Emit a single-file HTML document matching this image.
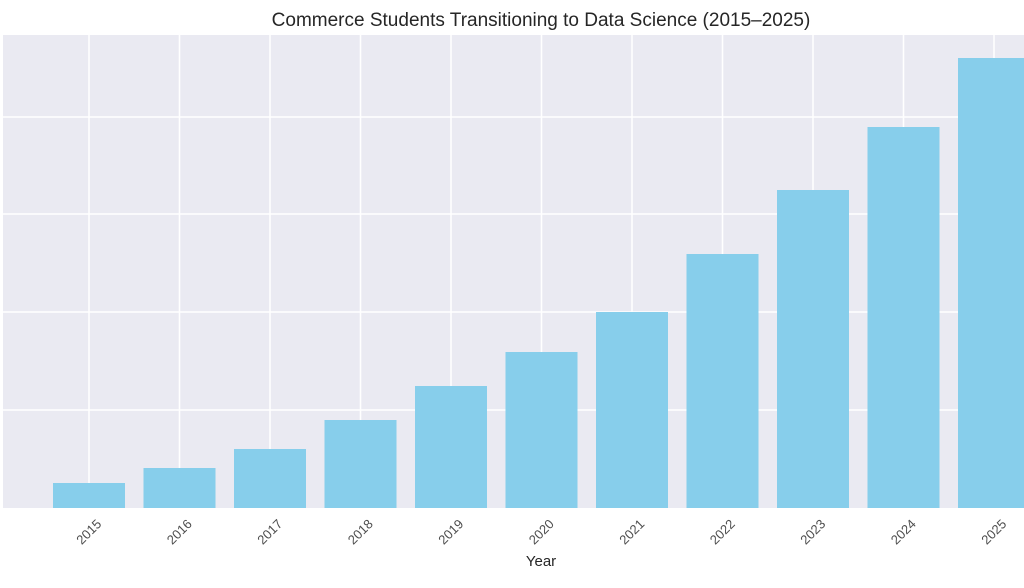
<!DOCTYPE html>
<html><head><style>
body{margin:0;background:#fff;width:1024px;height:583px;overflow:hidden;font-family:"Liberation Sans",sans-serif}
</style></head><body>
<svg width="1024" height="583" xmlns="http://www.w3.org/2000/svg" font-family="Liberation Sans, sans-serif">
<text x="541" y="26" text-anchor="middle" font-size="19" fill="#262626">Commerce Students Transitioning to Data Science (2015–2025)</text>
<rect x="3" y="35" width="1021" height="473" fill="#eaeaf2"/>
<g stroke="#fff" stroke-width="1.5">
<line x1="3" x2="1024" y1="117" y2="117"/><line x1="3" x2="1024" y1="214" y2="214"/><line x1="3" x2="1024" y1="312" y2="312"/><line x1="3" x2="1024" y1="410" y2="410"/>
<line x1="89" x2="89" y1="35" y2="508"/><line x1="179.5" x2="179.5" y1="35" y2="508"/><line x1="270" x2="270" y1="35" y2="508"/><line x1="360.5" x2="360.5" y1="35" y2="508"/><line x1="451" x2="451" y1="35" y2="508"/><line x1="541.5" x2="541.5" y1="35" y2="508"/><line x1="632" x2="632" y1="35" y2="508"/><line x1="722.5" x2="722.5" y1="35" y2="508"/><line x1="813" x2="813" y1="35" y2="508"/><line x1="903.5" x2="903.5" y1="35" y2="508"/><line x1="994" x2="994" y1="35" y2="508"/>
</g>
<g fill="#87ceeb">
<rect x="53" y="483" width="72" height="25"/>
<rect x="143.5" y="468" width="72" height="40"/>
<rect x="234" y="449" width="72" height="59"/>
<rect x="324.5" y="420" width="72" height="88"/>
<rect x="415" y="386" width="72" height="122"/>
<rect x="505.5" y="352" width="72" height="156"/>
<rect x="596" y="312" width="72" height="196"/>
<rect x="686.5" y="254" width="72" height="254"/>
<rect x="777" y="190" width="72" height="318"/>
<rect x="867.5" y="127" width="72" height="381"/>
<rect x="958" y="58" width="72" height="450"/>
</g>
<g font-size="13" fill="#4d4d4d" text-anchor="middle">
<text transform="translate(92,535) rotate(-45)">2015</text>
<text transform="translate(182.5,535) rotate(-45)">2016</text>
<text transform="translate(273,535) rotate(-45)">2017</text>
<text transform="translate(363.5,535) rotate(-45)">2018</text>
<text transform="translate(454,535) rotate(-45)">2019</text>
<text transform="translate(544.5,535) rotate(-45)">2020</text>
<text transform="translate(635,535) rotate(-45)">2021</text>
<text transform="translate(725.5,535) rotate(-45)">2022</text>
<text transform="translate(816,535) rotate(-45)">2023</text>
<text transform="translate(906.5,535) rotate(-45)">2024</text>
<text transform="translate(997,535) rotate(-45)">2025</text>
</g>
<text x="541" y="566" text-anchor="middle" font-size="15" fill="#262626">Year</text>
</svg>
</body></html>
